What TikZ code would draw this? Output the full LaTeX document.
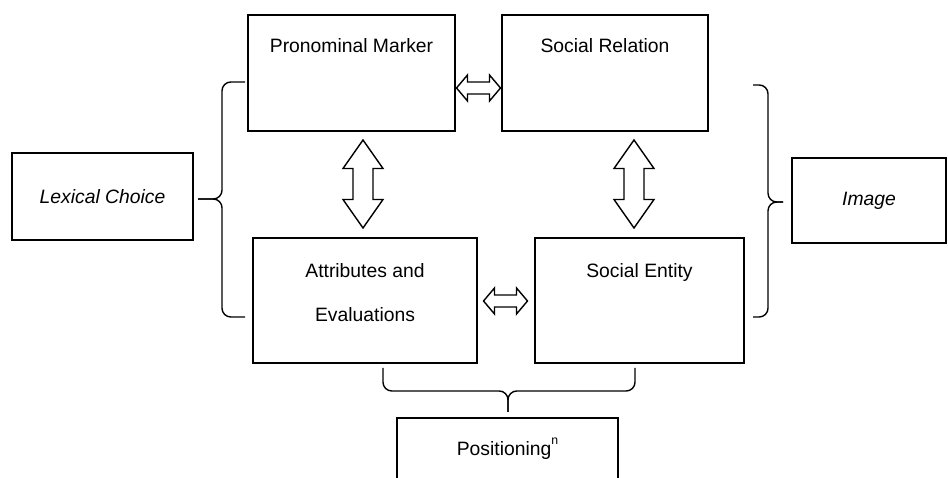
\documentclass[tikz,border=0pt]{standalone}
\usepackage{fontspec}
\setmainfont{Liberation Sans}
\usepackage{tikz}
\usetikzlibrary{positioning}

\begin{document}
\begin{tikzpicture}[every node/.style={font=\fontsize{11}{13}\selectfont},
  box/.style={draw, line width=0.8pt, inner sep=0pt},
  boxtext/.style={inner sep=0pt, align=center},
  brace/.style={line width=0.8pt, rounded corners=5pt},
  hdbl/.pic={\draw[line width=0.8pt] (-0.44,0) -- (-0.22,0.26) -- (-0.22,0.12) -- (0.22,0.12)
    -- (0.22,0.26) -- (0.44,0) -- (0.22,-0.26) -- (0.22,-0.12) -- (-0.22,-0.12) -- (-0.22,-0.26) -- cycle;},
  vdbl/.pic={\draw[line width=0.8pt] (0,0.88) -- (0.40,0.31) -- (0.20,0.31) -- (0.20,-0.31)
    -- (0.40,-0.31) -- (0,-0.88) -- (-0.40,-0.31) -- (-0.20,-0.31) -- (-0.20,0.31) -- (-0.40,0.31) -- cycle;}]
\useasboundingbox (0,0) rectangle (18.96,9.56);
\clip (0,0) rectangle (18.96,9.56);
% the four boxes in the middle
\node[box, minimum width=4.14cm, minimum height=2.32cm] (pm) at (7.03,8.10) {};
\node[boxtext, below=0.47cm of pm.north] (pmtext) {Pronominal Marker};
\node[box, minimum width=4.12cm, minimum height=2.32cm] (sr) at (12.10,8.10) {};
\node[boxtext, below=0.47cm of sr.north] (srtext) {Social Relation};
\node[box, minimum width=4.48cm, minimum height=2.50cm] (ae) at (7.30,3.55) {};
\node[boxtext, below=0.52cm of ae.north] (aetext) {Attributes and\\[0.42cm]Evaluations};
\node[box, minimum width=4.18cm, minimum height=2.50cm] (se) at (12.79,3.55) {};
\node[boxtext, below=0.52cm of se.north] (setext) {Social Entity};
% outer boxes
\node[box, minimum width=3.62cm, minimum height=1.74cm] (lex) at (2.05,5.63) {\itshape Lexical Choice};
\node[box, minimum width=3.08cm, minimum height=1.70cm] (img) at (17.38,5.55) {\itshape Image};
\node[box, minimum width=4.42cm, minimum height=1.24cm] (pos) at (10.15,0.58) {Positioning\raisebox{1.1ex}{\scriptsize n}};
% double arrows
\pic (pmsr) at (9.57,7.80) {hdbl};
\pic (aese) at (10.11,3.54) {hdbl};
\pic (pmae) at (7.26,5.88) {vdbl};
\pic (srse) at (12.68,5.88) {vdbl};
% braces
\draw[brace] (4.90,7.92) -- (4.44,7.92) -- (4.44,5.58) -- (3.96,5.58);
\draw[brace] (4.90,3.22) -- (4.44,3.22) -- (4.44,5.58) -- (3.96,5.58);
\draw[brace] (15.06,7.86) -- (15.36,7.86) -- (15.36,5.52) -- (15.66,5.52);
\draw[brace] (15.06,3.22) -- (15.36,3.22) -- (15.36,5.52) -- (15.66,5.52);
\draw[brace] (7.66,2.20) -- (7.66,1.74) -- (10.16,1.74) -- (10.16,1.32);
\draw[brace] (12.70,2.20) -- (12.70,1.74) -- (10.16,1.74) -- (10.16,1.32);
\end{tikzpicture}
\end{document}
